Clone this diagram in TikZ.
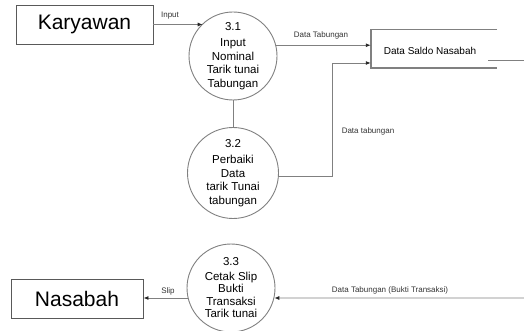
\documentclass[tikz,border=0pt]{standalone}
\usepackage{fontspec}
\setmainfont{Liberation Sans}
\usetikzlibrary{arrows.meta,calc}
\begin{document}
\begin{tikzpicture}[x=1pt,y=-1pt,
  ln/.style={draw=black!50, line width=0.9pt},
  arr/.style={ln, -{Latex[length=5pt,width=4pt,color=black!85]}},
  proc/.style={circle, draw=black!50, line width=0.9pt, minimum size=88pt, inner sep=0pt, align=center, font=\fontsize{11.5}{13.5}\selectfont},
  ext/.style={rectangle, draw=black!65, line width=0.9pt, minimum width=137pt, minimum height=39pt, font=\fontsize{21}{24}\selectfont},
  lab/.style={font=\fontsize{8}{9}\selectfont, text=black!80, inner sep=0pt},
  store/.style={ln, line width=1.4pt}
]
\useasboundingbox (0,0) rectangle (524,331);
\clip (0,0) rectangle (524,331);

\node[ext] (kary) at (84.5,24.5) {Karyawan};
\node[ext, minimum width=132pt] (nas) at (77,298.5) {Nasabah};

\node[proc] (p31) at (233,56) {3.1\\[3pt]Input\\Nominal\\Tarik tunai\\Tabungan};
\node[proc, minimum size=91pt] (p32) at (233,173) {3.2\\[3pt]Perbaiki\\Data\\tarik Tunai\\tabungan};
\node[proc, font=\fontsize{11.5}{12.5}\selectfont] (p33) at (231,288) {3.3\\[2pt]Cetak Slip\\Bukti\\Transaksi\\Tarik tunai};

% data store
\node[inner sep=0pt, minimum width=126pt, minimum height=38pt] (ds) at (434,49) {};
\node[font=\fontsize{10}{12}\selectfont, inner sep=0pt] (dst) at (430,51) {Data Saldo Nasabah};
\draw[store] (497,29.5) -- (371,29.5) -- (371,68) -- (497,68);
\draw[store, line width=1pt] (488,61) -- (524,61);

% connectors
\draw[arr] (kary.east) -- (kary.east -| p31.133);
\node[lab] at (170,16) {Input};

\draw[arr] (p31.14.5) -- (p31.14.5 -| ds.west);
\node[lab] at (321,35) {Data Tabungan};

\draw[ln] (p31.south) -- (p32.north);

\coordinate (k) at (332,63);
\draw[arr] (p32.-4) -| (k) -- (k -| ds.west);
\node[lab] at (368,131) {Data tabungan};

\draw[arr] (p33.193) -- (p33.193 -| nas.east);
\node[lab] at (168,291) {Slip};

\coordinate (r) at (524,298);
\draw[arr] (r) -- (p33.-13);
\node[lab] at (390,290) {Data Tabungan (Bukti Transaksi)};
\end{tikzpicture}
\end{document}
